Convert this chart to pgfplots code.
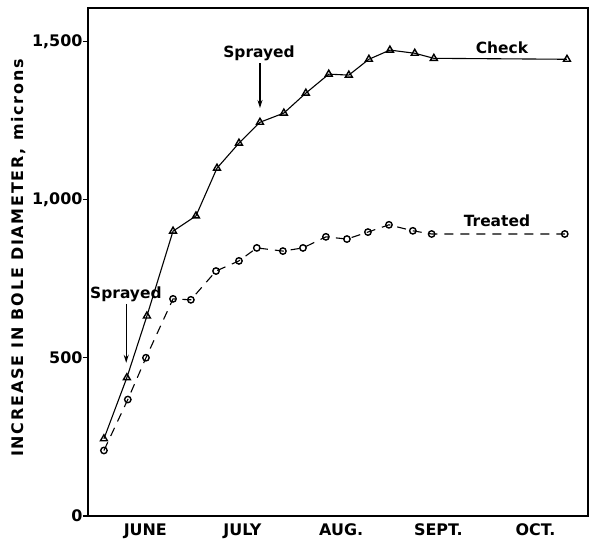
\documentclass[border=0pt]{standalone}
\usepackage{fontspec}
\setmainfont{DejaVu Sans}[BoldFont={DejaVu Sans Bold}]
\usepackage{pgfplots}
\pgfplotsset{compat=1.18}
\usetikzlibrary{arrows.meta}

\pgfplotstableread{
x y
2.0 244
9.2 437
15.5 632
23.7 900
30.9 948
37.5 1099
44.4 1178
51.0 1244
58.5 1273
65.4 1336
72.6 1396
78.9 1393
85.2 1443
91.8 1472
99.6 1462
105.6 1446
147.4 1443
}\checkdata

\pgfplotstableread{
x y
2.0 207
9.5 368
15.2 500
23.7 686
29.3 683
37.2 774
44.4 806
50.0 847
58.2 837
64.5 847
71.7 882
78.3 875
84.9 897
91.5 920
99.0 901
104.9 891
146.7 891
}\treateddata

\begin{document}
\begin{tikzpicture}
\path[use as bounding box] (0,0) rectangle (591bp,541bp);
\begin{axis}[
  at={(88bp,25bp)}, anchor=south west,
  scale only axis, width=500bp, height=508bp,
  xmin=-3, xmax=154, ymin=0, ymax=1605,
  axis line style={line width=1.5bp},
  xtick={15,45.5,76.5,107,137.5},
  xticklabels={JUNE,JULY,AUG.,SEPT.,OCT.},
  xtick style={draw=none},
  minor xtick={0,30,61,92,122},
  minor tick length=5bp,
  minor tick style={line width=1.2bp, black},
  xtick pos=bottom,
  ytick={0,500,1000,1500},
  yticklabels={0,500,{1,000},{1,500}},
  ytick pos=left,
  tick align=inside,
  major tick length=5bp,
  ytick style={xshift=-5bp, line width=1.2bp, black},
  tick label style={font=\fontsize{16}{18}\selectfont\bfseries},
  yticklabel style={xshift=-2bp},
  xticklabel style={yshift=-4bp},
  ylabel={\addfontfeature{LetterSpace=11}INCREASE IN BOLE DIAMETER, microns},
  ylabel style={font=\fontsize{16}{18}\selectfont\bfseries, at={(axis description cs:-0.139,0.508)}, anchor=center},
  clip=false,
]
\addplot[black, line width=1.1bp, mark=triangle, mark size=4bp, mark options={solid, line width=1.4bp, fill=white}] table[x=x,y=y] {\checkdata};
\addplot[black, line width=1.1bp, dash pattern=on 9bp off 7bp, mark=o, mark size=3.2bp, mark options={solid, line width=1.4bp, fill=white}] table[x=x,y=y] {\treateddata};
\node[font=\fontsize{15.5}{17}\selectfont\bfseries] at (axis cs:50.7,1462) {Sprayed};
\draw[-{Stealth[length=8bp,width=5bp]}, line width=1.1bp] (axis cs:51,1431) -- (axis cs:51,1289);
\node[font=\fontsize{15.5}{17}\selectfont\bfseries] at (axis cs:8.9,702) {Sprayed};
\draw[-{Stealth[length=8bp,width=5bp]}, line width=1.1bp] (axis cs:9,670) -- (axis cs:9,484);
\node[font=\fontsize{15.5}{17}\selectfont\bfseries] at (axis cs:127,1478) {Check};
\node[font=\fontsize{15.5}{17}\selectfont\bfseries] at (axis cs:125.4,932) {Treated};
\end{axis}
\end{tikzpicture}
\end{document}
